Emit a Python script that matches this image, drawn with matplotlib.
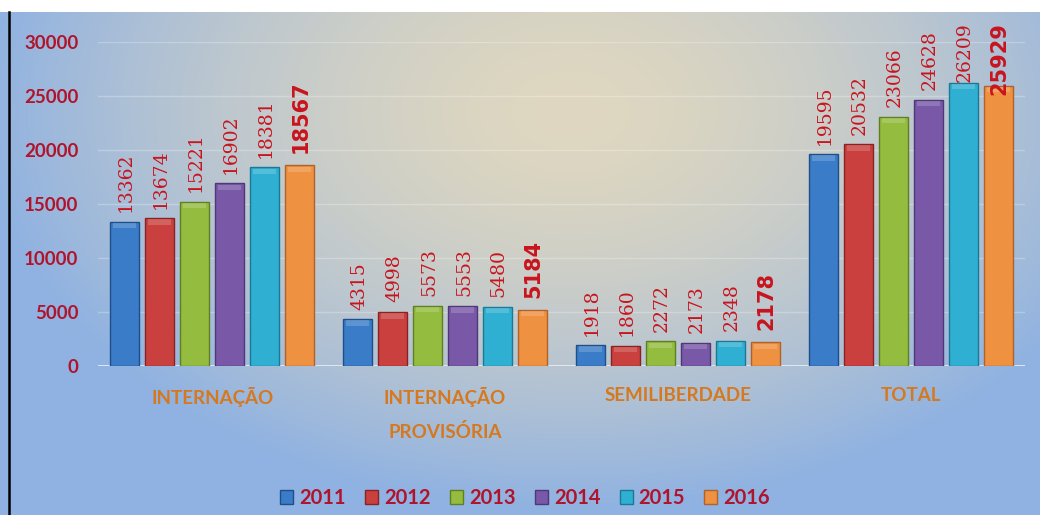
import numpy as np
import matplotlib.pyplot as plt
from matplotlib.patches import Patch

# data
categories = ['INTERNAÇÃO', 'INTERNAÇÃO\nPROVISÓRIA', 'SEMILIBERDADE', 'TOTAL']
years = ['2011', '2012', '2013', '2014', '2015', '2016']
v2011 = [13362, 4315, 1918, 19595]
v2012 = [13674, 4998, 1860, 20532]
v2013 = [15221, 5573, 2272, 23066]
v2014 = [16902, 5553, 2173, 24628]
v2015 = [18381, 5480, 2348, 26209]
v2016 = [18567, 5184, 2178, 25929]
series = [v2011, v2012, v2013, v2014, v2015, v2016]
yticks = [0, 5000, 10000, 15000, 20000, 25000, 30000]

colors = ['#3A7CC8', '#C9403E', '#94BC3E', '#7A58A8', '#2FB0D2', '#EE9140']
edges = ['#1F4F8A', '#8A2222', '#5F7F22', '#4E3878', '#1A7A95', '#B0622A']
tick_red = '#B0142C'
lab_red = '#C8141E'
cat_orange = '#D6781E'

W, H = 1040, 515
fig = plt.figure(figsize=(W / 100, H / 100), dpi=100)

# background gradient
bg = fig.add_axes([0, 0, 1, 1])
yy, xx = np.mgrid[0:H, 0:W]
t = np.sqrt(((xx - 570) / 590.0) ** 2 + ((yy - 110) / 400.0) ** 2)
t = np.clip(t, 0, 1) ** 1.6
beige = np.array([223, 215, 192]) / 255
blue = np.array([143, 178, 226]) / 255
img = beige[None, None, :] * (1 - t[..., None]) + blue[None, None, :] * t[..., None]
img[:12, :, :] = 1.0
bg.imshow(img, extent=[0, W, H, 0], aspect='auto', interpolation='bilinear')
bg.plot([8.5, 8.5], [12, H], color='black', lw=1.8)
bg.set_xlim(0, W)
bg.set_ylim(H, 0)
bg.axis('off')

ax = fig.add_axes([98 / W, (H - 366) / H, 927 / W, 324 / H])
ax.patch.set_alpha(0)
for s in ax.spines.values():
    s.set_visible(False)

x = np.arange(len(categories))
step, width = 0.150, 0.125
anns = []
for j, vals in enumerate(series):
    xs = x + (j - 2.5) * step
    ax.bar(xs, vals, width, color=colors[j], edgecolor=edges[j], linewidth=1.0, zorder=3)
    # lighter top bevel
    ax.bar(xs, [500] * len(vals), width * 0.8, bottom=[v - 600 for v in vals],
           color='white', alpha=0.18, linewidth=0, zorder=4)
    for xi, v in zip(xs, vals):
        if j == 5:
            a = ax.annotate(str(v), (xi, v), xytext=(1, 9), textcoords='offset points',
                            rotation=90, ha='center', va='bottom', color=lab_red,
                            fontsize=15, fontweight='bold', family='DejaVu Sans',
                            annotation_clip=False, zorder=6)
        else:
            a = ax.annotate(str(v), (xi, v), xytext=(1, 7), textcoords='offset points',
                            rotation=90, ha='center', va='bottom', color=lab_red,
                            fontsize=13.5, family='DejaVu Serif',
                            annotation_clip=False, zorder=6)
        anns.append(a)

ax.set_xlim(-0.49, 3.49)
ax.set_ylim(0, 30000)
ax.set_yticks(yticks)
ax.set_yticklabels([str(v) for v in yticks], color=tick_red, fontsize=13.5,
                   fontweight='bold', family='Lato')
ax.tick_params(axis='y', length=0, pad=14)
ax.set_xticks(x)
ax.set_xticklabels(categories, color=cat_orange, fontsize=13.5, fontweight='bold',
                   family='Lato', linespacing=2.05, va='top')
ax.tick_params(axis='x', length=0, pad=15)
ax.grid(axis='y', color='white', alpha=0.25, lw=1, zorder=0)
ax.axhline(0, color='#E6EBF0', lw=2, zorder=2)

handles = [Patch(facecolor=c, edgecolor=e) for c, e in zip(colors, edges)]
leg = fig.legend(handles, years, loc='lower center', bbox_to_anchor=(0.505, -0.022),
                 ncol=6, frameon=False, handlelength=0.65, handleheight=0.65,
                 handletextpad=0.3, columnspacing=0.95,
                 prop={'family': 'Lato', 'weight': 'bold', 'size': 14.5})
for txt in leg.get_texts():
    txt.set_color(tick_red)

# keep labels under the top of the image like the original
fig.canvas.draw()
r = fig.canvas.get_renderer()
cap = H - 22
for a in anns:
    bb = a.get_window_extent(r)
    if bb.y1 > cap:
        dx, dy = a.xyann
        a.xyann = (dx, dy - (bb.y1 - cap) * 72 / fig.dpi)

fig.savefig('out.png', dpi=100)
